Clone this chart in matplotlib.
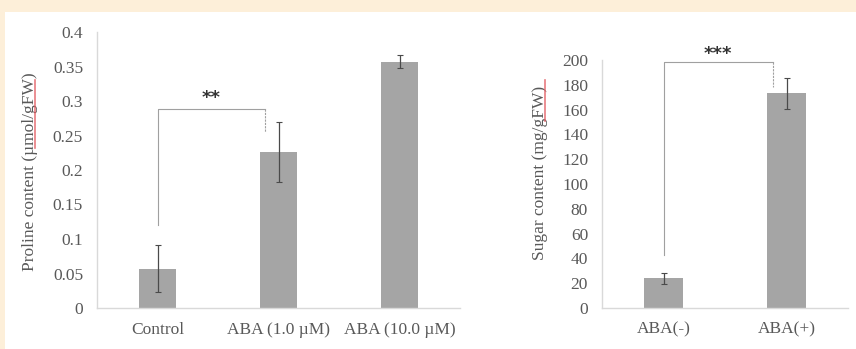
import matplotlib.pyplot as plt
from matplotlib.patches import Rectangle
from matplotlib.lines import Line2D

# proline content
pro_labels = ['Control', 'ABA (1.0 \u00b5M)', 'ABA (10.0 \u00b5M)']
pro_mean = [0.057, 0.226, 0.357]
pro_err = [0.034, 0.044, 0.009]
pro_ticks = [0, 0.05, 0.1, 0.15, 0.2, 0.25, 0.3, 0.35, 0.4]
pro_ticklabels = ['0', '0.05', '0.1', '0.15', '0.2', '0.25', '0.3', '0.35', '0.4']

# sugar content
sug_labels = ['ABA(-)', 'ABA(+)']
sug_mean = [24, 173]
sug_err = [4.5, 12.5]
sug_ticks = list(range(0, 201, 20))

bar_col = '#a5a5a5'
txt_col = '#595959'
axis_col = '#d9d9d9'
font = 'Liberation Serif'

W, H = 856, 349
fig = plt.figure(figsize=(W / 100, H / 100), dpi=100)
fig.patch.set_facecolor('#fdefd9')
fig.patches.append(Rectangle((5 / W, 0), 1, 1 - 12 / H, transform=fig.transFigure,
                             facecolor='white', edgecolor='none', zorder=-1))


def style(ax):
    for s in ['top', 'right']:
        ax.spines[s].set_visible(False)
    for s in ['left', 'bottom']:
        ax.spines[s].set_color(axis_col)
        ax.spines[s].set_linewidth(1)
    ax.set_facecolor('none')
    ax.tick_params(length=0, pad=10, labelsize=12.5, labelcolor=txt_col)
    for lab in ax.get_xticklabels() + ax.get_yticklabels():
        lab.set_family(font)


def bracket(ax, x0, x1, y0, y1, ytop, stars, ystar):
    ax.plot([x0, x0, x1], [y0, ytop, ytop], color='#a0a0a0', lw=0.8, clip_on=False)
    ax.plot([x1, x1], [ytop, y1], color='#a0a0a0', lw=0.8, ls=(0, (2, 1)), clip_on=False)
    ax.text((x0 + x1) / 2, ystar, stars, ha='center', va='center',
            fontsize=13, fontweight='bold', color='#333333', family='DejaVu Sans')


def squiggle(x, y0, y1):
    # spell-check underline under the unit
    fig.add_artist(Line2D([x / W, x / W], [1 - y0 / H, 1 - y1 / H],
                          color='#e25a60', lw=1.2, alpha=0.8,
                          transform=fig.transFigure))


# left panel
ax1 = fig.add_axes([97 / W, 1 - 308 / H, 363 / W, 276 / H])
x1 = range(len(pro_labels))
ax1.bar(x1, pro_mean, width=0.31, color=bar_col, zorder=2)
ax1.errorbar(x1, pro_mean, yerr=pro_err, fmt='none', ecolor='#4a4a4a',
             elinewidth=0.9, capsize=2, capthick=0.8, zorder=3)
ax1.set_xlim(-0.5, 2.5)
ax1.set_ylim(0, 0.4)
ax1.set_yticks(pro_ticks)
ax1.set_yticklabels(pro_ticklabels)
ax1.set_xticks(list(x1))
ax1.set_xticklabels(pro_labels)
ax1.set_ylabel('Proline content (\u00b5mol/gFW)', family=font, fontsize=12.5,
               color=txt_col)
ax1.yaxis.set_label_coords(-0.1625, 0.495)
style(ax1)
bracket(ax1, 0, 0.89, 0.12, 0.255, 0.288, '**', 0.304)
squiggle(35, 80, 148)

# right panel
ax2 = fig.add_axes([602 / W, 1 - 308 / H, 246 / W, 248 / H])
x2 = range(len(sug_labels))
ax2.bar(x2, sug_mean, width=0.31, color=bar_col, zorder=2)
ax2.errorbar(x2, sug_mean, yerr=sug_err, fmt='none', ecolor='#4a4a4a',
             elinewidth=0.9, capsize=2, capthick=0.8, zorder=3)
ax2.set_xlim(-0.5, 1.5)
ax2.set_ylim(0, 200)
ax2.set_yticks(sug_ticks)
ax2.set_xticks(list(x2))
ax2.set_xticklabels(sug_labels)
ax2.set_ylabel('Sugar content (mg/gFW)', family=font, fontsize=12.5,
               color=txt_col)
ax2.yaxis.set_label_coords(-0.2195, 0.546)
style(ax2)
bracket(ax2, 0, 0.89, 43, 178, 198, '***', 205)
squiggle(545, 80, 121)

fig.savefig('out.png', dpi=100, facecolor=fig.get_facecolor())
